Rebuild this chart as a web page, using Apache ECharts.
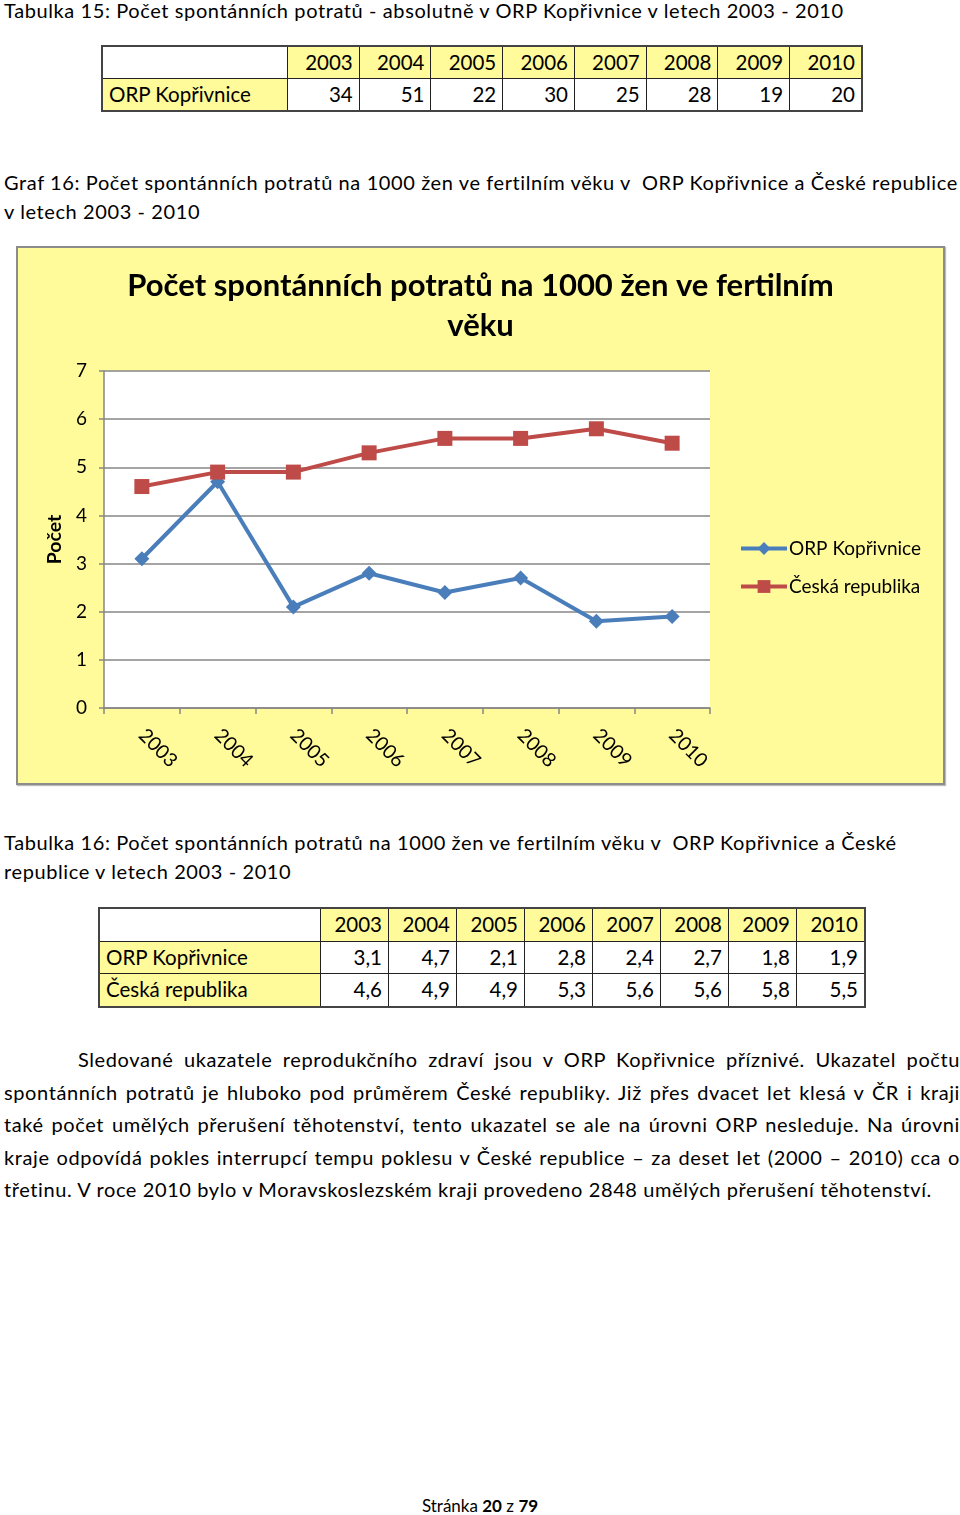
<!DOCTYPE html>
<html>
<head>
<meta charset="utf-8">
<script src="https://cdn.jsdelivr.net/npm/echarts@6/dist/echarts.min.js"></script>
<style>
  html, body { margin:0; padding:0; background:#fff; }
  body { width:960px; height:1515px; position:relative; overflow:hidden; font-family: Lato, "Open Sans", sans-serif; color:#000; }
  .t { position:absolute; font-size:20px; letter-spacing:0.6px; white-space:nowrap; line-height:29px; }
  table { position:absolute; border-collapse:collapse; font-size:20.5px; border:2px solid #444; }
  td { border:1px solid #222; padding:0 6px; text-align:right; line-height:29px; }
  #tab15 td { height:31px; }
  #tab16 td { height:31.5px; }
  td.y { background:#FFFA9A; }
  td.lab { text-align:left; }
  #para { position:absolute; left:4px; top:1043px; width:956px; font-size:20px; letter-spacing:0.6px; line-height:32.5px; text-align:justify; text-indent:74px; }
  #foot { position:absolute; left:0; width:960px; top:1495px; text-align:center; font-size:17px; }
  #wrap { position:absolute; left:16px; top:246px; width:925px; height:535px; border:2px solid #8c8c8c; box-shadow:1px 1px 1px #bbb; background:#FFFA9A; }
  #chart { width:925px; height:535px; }
</style>
</head>
<body>
<div class="t" style="left:4px; top:-4px;">Tabulka 15: Počet spontánních potratů - absolutně v ORP Kopřivnice v letech 2003 - 2010</div>
<table id="tab15" style="left:101px; top:45px; width:762px;"></table>
<div class="t" style="left:4px; top:168px;">Graf 16: Počet spontánních potratů na 1000 žen ve fertilním věku v&nbsp; ORP Kopřivnice a České republice<br>v letech 2003 - 2010</div>
<div id="wrap"><div id="chart"></div></div>
<div class="t" style="left:4px; top:828px;">Tabulka 16: Počet spontánních potratů na 1000 žen ve fertilním věku v&nbsp; ORP Kopřivnice a České<br>republice v letech 2003 - 2010</div>
<table id="tab16" style="left:98px; top:907px; width:768px;"></table>
<div id="para">Sledované ukazatele reprodukčního zdraví jsou v ORP Kopřivnice příznivé. Ukazatel počtu spontánních potratů je hluboko pod průměrem České republiky. Již přes dvacet let klesá v ČR i kraji také počet umělých přerušení těhotenství, tento ukazatel se ale na úrovni ORP nesleduje. Na úrovni kraje odpovídá pokles interrupcí tempu poklesu v České republice – za deset let (2000 – 2010) cca o třetinu. V roce 2010 bylo v Moravskoslezském kraji provedeno 2848 umělých přerušení těhotenství.</div>
<div id="foot">Stránka <b>20</b> z <b>79</b></div>
<script>
const years = ['2003','2004','2005','2006','2007','2008','2009','2010'];
const absCounts = [34, 51, 22, 30, 25, 28, 19, 20];
const orpRate = [3.1, 4.7, 2.1, 2.8, 2.4, 2.7, 1.8, 1.9];
const czRate = [4.6, 4.9, 4.9, 5.3, 5.6, 5.6, 5.8, 5.5];
const yTicks = [0, 1, 2, 3, 4, 5, 6, 7];
const seriesNames = ['ORP Kopřivnice', 'Česká republika'];

function fmt(v){ return String(v).replace('.', ','); }
function buildTable(id, firstW, rows){
  const t = document.getElementById(id);
  let h = '<tr><td style="width:'+firstW+'px"></td>' + years.map(y=>'<td class="y">'+y+'</td>').join('') + '</tr>';
  rows.forEach(r=>{
    h += '<tr><td class="y lab">'+r.name+'</td>' + r.vals.map(v=>'<td>'+v+'</td>').join('') + '</tr>';
  });
  t.innerHTML = h;
}
buildTable('tab15', 172, [{name:seriesNames[0], vals:absCounts}]);
buildTable('tab16', 208, [{name:seriesNames[0], vals:orpRate.map(fmt)},{name:seriesNames[1], vals:czRate.map(fmt)}]);

const F = 'Lato, "Open Sans", sans-serif';
const chart = echarts.init(document.getElementById('chart'), null, {renderer:'canvas'});
chart.setOption({
  backgroundColor:'#FFFA9A',
  animation:false,
  title:{ text:'Počet spontánních potratů na 1000 žen ve fertilním\nvěku', left:'center', top:13,
    textStyle:{ fontFamily:F, fontSize:31, fontWeight:'bold', color:'#000', lineHeight:40 } },
  legend:{ orient:'vertical', left:716, top:286, itemWidth:46, itemHeight:16, itemGap:19,
    lineStyle:{ width:4 },
    textStyle:{ fontFamily:F, fontSize:19, color:'#000', padding:[0,0,0,-3] }, data:seriesNames },
  grid:{ left:86, top:123, width:606, height:337, show:true, backgroundColor:'#fff', borderWidth:0 },
  xAxis:{ type:'category', data:years, boundaryGap:true,
    axisLine:{ lineStyle:{ color:'#868686', width:1.5 } },
    axisTick:{ show:true, length:6, lineStyle:{ color:'#868686', width:1.5 } },
    axisLabel:{ rotate:-45, fontFamily:F, fontSize:19.5, color:'#000', margin:24 } },
  yAxis:{ type:'value', min:0, max:7, interval:1,
    name:'Počet', nameLocation:'middle', nameGap:38, nameRotate:90,
    nameTextStyle:{ fontFamily:F, fontSize:19.5, fontWeight:'bold', color:'#000' },
    axisLine:{ show:true, lineStyle:{ color:'#868686', width:1.5 } },
    axisTick:{ show:true, length:5, lineStyle:{ color:'#868686', width:1.5 } },
    splitLine:{ lineStyle:{ color:'#868686', width:1.5 } },
    axisLabel:{ fontFamily:F, fontSize:19, color:'#000', margin:17 } },
  series:[
    { name:seriesNames[0], type:'line', data:orpRate, symbol:'diamond', symbolSize:15,
      lineStyle:{ color:'#4A7EBB', width:4 }, itemStyle:{ color:'#4A7EBB' } },
    { name:seriesNames[1], type:'line', data:czRate, symbol:'rect', symbolSize:15,
      lineStyle:{ color:'#BE4B48', width:4 }, itemStyle:{ color:'#BE4B48' } }
  ]
});
</script>
</body>
</html>
